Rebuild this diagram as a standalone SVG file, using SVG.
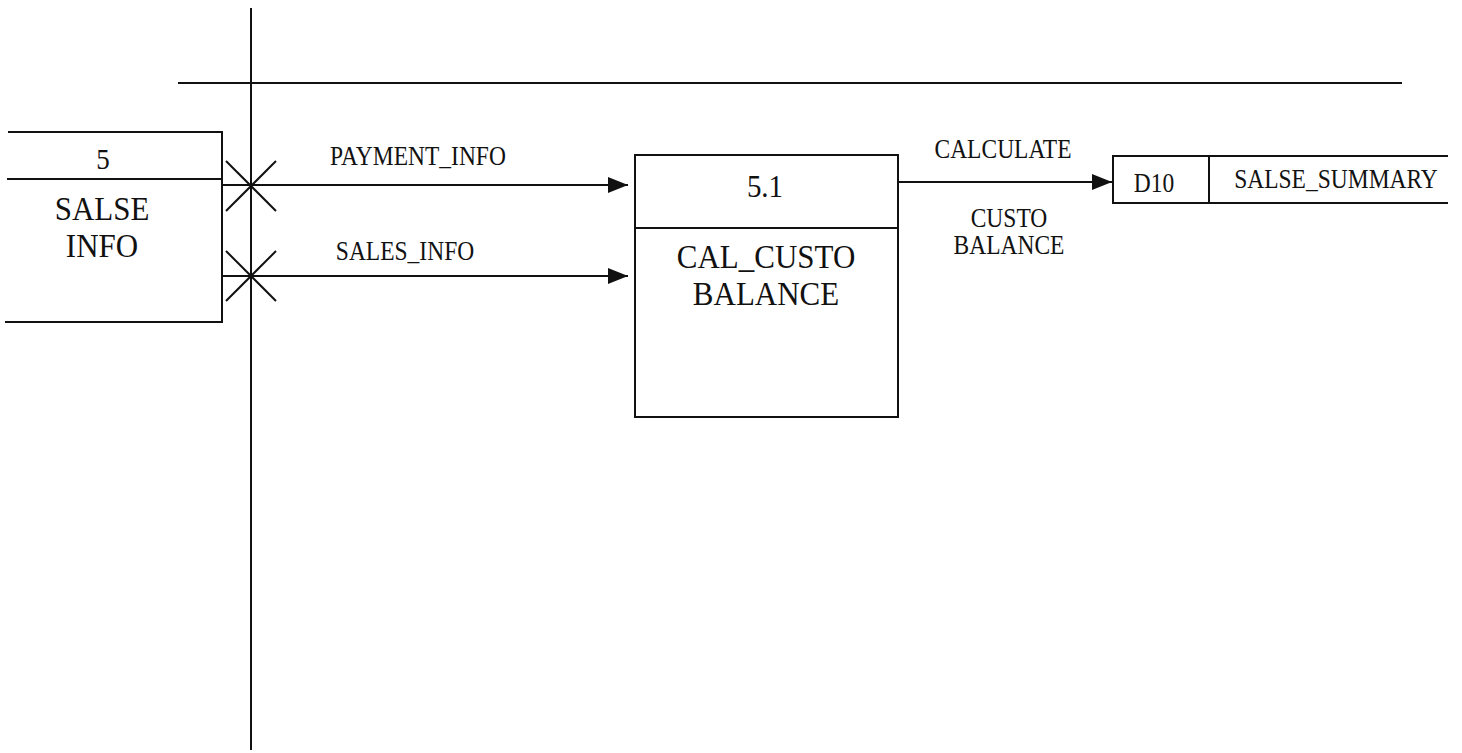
<svg xmlns="http://www.w3.org/2000/svg" width="1462" height="753" viewBox="0 0 1462 753">
<defs>
<style>
.ln{stroke:#111;stroke-width:2;fill:none}
.t{font-family:"Liberation Serif","Times New Roman",serif;fill:#111;text-anchor:middle}
.s{font-size:23.5px}
.m{font-size:31px}
</style>
<marker id="ah" markerWidth="20" markerHeight="18" refX="20" refY="9" orient="auto" markerUnits="userSpaceOnUse">
<path d="M0,1 L20,9 L0,17 Z" fill="#111"/>
</marker>
</defs>
<rect width="1462" height="753" fill="#fff"/>
<g id="boundary">
<line class="ln" x1="251" y1="8" x2="251" y2="750"/>
<line class="ln" x1="178" y1="83" x2="1402" y2="83"/>
</g>
<g id="entity-5">
<path class="ln" d="M8,132 H222 V322 H5"/>
<line class="ln" x1="7" y1="179" x2="222" y2="179"/>
<text class="t" transform="translate(103,169) scale(1,1.12)" font-size="27">5</text>
<text class="t m" transform="translate(102,220) scale(1,1.12)">SALSE</text>
<text class="t m" transform="translate(102,257) scale(1,1.12)">INFO</text>
</g>
<g id="process-5-1">
<rect class="ln" x="635" y="155" width="263" height="262"/>
<line class="ln" x1="635" y1="228" x2="898" y2="228"/>
<text class="t" transform="translate(765,197) scale(1,1.12)" font-size="29">5.1</text>
<text class="t m" transform="translate(766,268) scale(1,1.12)">CAL_CUSTO</text>
<text class="t m" transform="translate(766,305) scale(1,1.12)">BALANCE</text>
</g>
<g id="store-D10">
<path class="ln" d="M1448,156 H1113 V203 H1448"/>
<line class="ln" x1="1209" y1="156" x2="1209" y2="203"/>
<text class="t s" transform="translate(1154,192) scale(1,1.12)">D10</text>
<text class="t s" transform="translate(1336,188) scale(1,1.12)">SALSE_SUMMARY</text>
</g>
<g id="connectors">
<line class="ln" x1="222" y1="185" x2="628" y2="185" marker-end="url(#ah)"/>
<line class="ln" x1="222" y1="276" x2="628" y2="276" marker-end="url(#ah)"/>
<line class="ln" x1="898" y1="182" x2="1112" y2="182" marker-end="url(#ah)"/>
<line class="ln" x1="226" y1="161" x2="276" y2="211"/>
<line class="ln" x1="276" y1="161" x2="226" y2="211"/>
<line class="ln" x1="226" y1="251" x2="276" y2="301"/>
<line class="ln" x1="276" y1="251" x2="226" y2="301"/>
<text class="t s" transform="translate(418,165) scale(1,1.12)">PAYMENT_INFO</text>
<text class="t s" transform="translate(405,260) scale(1,1.12)">SALES_INFO</text>
<text class="t s" transform="translate(1003,158) scale(1,1.12)">CALCULATE</text>
<text class="t s" transform="translate(1009,227) scale(1,1.12)">CUSTO</text>
<text class="t s" transform="translate(1009,254) scale(1,1.12)">BALANCE</text>
</g>
</svg>
